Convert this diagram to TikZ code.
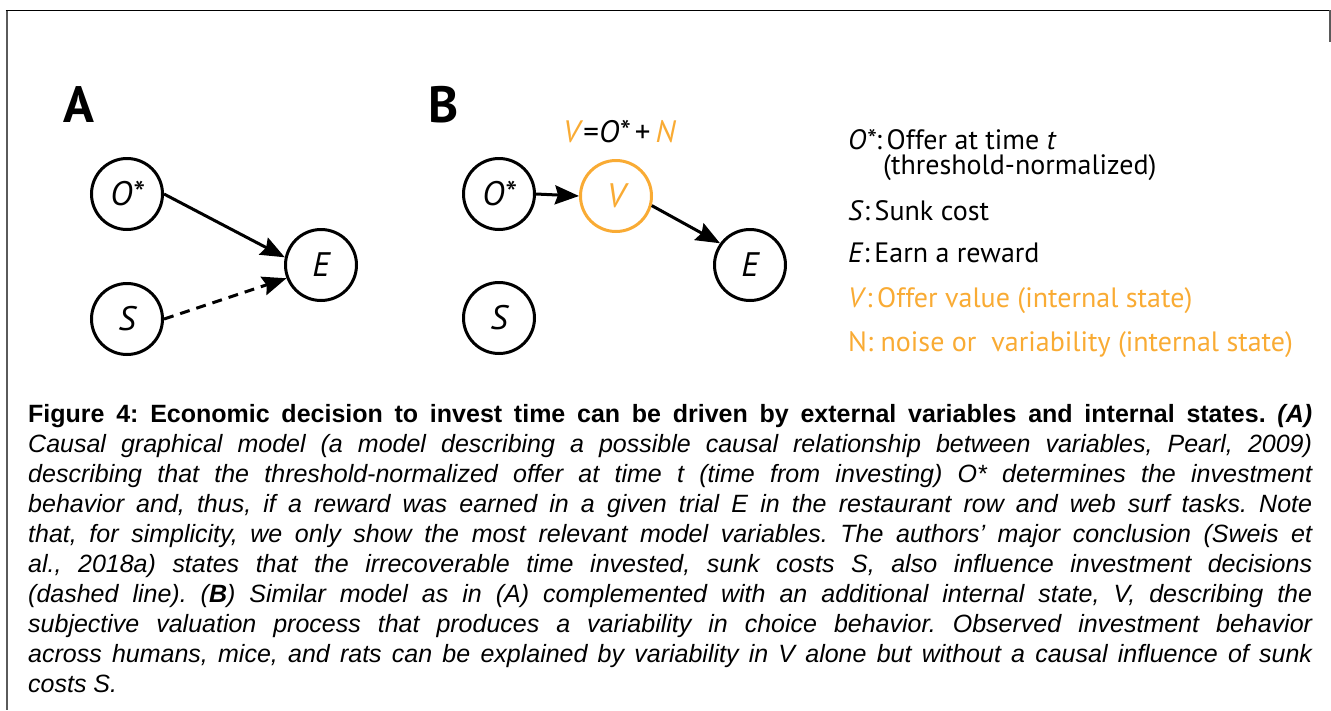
\documentclass[tikz,border=0pt]{standalone}
\usepackage{fontspec}
\setmainfont{PT Sans}
\newfontfamily\capfont{Liberation Sans}
\usetikzlibrary{arrows.meta}
\definecolor{vorange}{RGB}{249,171,52}
\definecolor{framegray}{RGB}{90,90,90}
\tikzset{
  varnode/.style={circle, draw, line width=3pt, minimum size=71pt, inner sep=0pt,
    font=\fontsize{34}{34}\selectfont\itshape},
  causal/.style={line width=3pt, -{Stealth[length=24pt,width=19pt,inset=3pt]}},
  legtext/.style={anchor=base west, inner sep=0pt, font=\fontsize{28}{28}\selectfont},
  paneltag/.style={anchor=base west, inner sep=0pt, font=\fontsize{51}{51}\selectfont\bfseries}
}

\begin{document}
\begin{tikzpicture}[x=1pt, y=-1pt]
 \useasboundingbox (0,0) rectangle (1331,710);
 %frame
 \draw[framegray, line width=2pt] (6.5,10) -- (6.5,710);
 \draw[line width=1.5pt] (5.5,10.5) -- (1331,10.5);
 \draw[framegray, line width=1.5pt] (1330,10) -- (1330,42);

 %A causal model
 \node[paneltag] (tagA) at (63,122) {A};
 \node[varnode] (oA) at (127,194) {O*};
 \node[varnode] (eA) at (321,265) {E};
 \node[varnode] (sA) at (127,319) {S};
 \draw[causal] (oA.east) -- (eA.168);
 \draw[causal, dash pattern=on 10pt off 7pt] (sA.east) -- (eA.201);

 %B model with internal state
 \node[paneltag] (tagB) at (428,122) {B};
 \node[legtext, font=\fontsize{31}{31}\selectfont] (eqV) at (563,142)
   {\textcolor{vorange}{\textit{V}}=\textit{O*}\,+\,\textcolor{vorange}{\textit{N}}};
 \node[varnode] (oB) at (499,194) {O*};
 \node[varnode, vorange] (vB) at (616,196) {V};
 \node[varnode] (eB) at (750,265) {E};
 \node[varnode] (sB) at (499,318) {S};
 \draw[causal] (oB.east) -- (vB.west);
 \draw[causal] (vB.-15) -- (eB.144);

 %legend
 \node[legtext] (legO) at (848,149) {\textit{O*}:\,Offer at time \textit{t}};
 \node[legtext] (legOb) at (883,174) {(threshold-normalized)};
 \node[legtext] (legS) at (848,220) {\textit{S}:\,Sunk cost};
 \node[legtext] (legE) at (848,262) {\textit{E}:\,Earn a reward};
 \node[legtext, vorange] (legV) at (848,307) {\textit{V}:\,Offer value (internal state)};
 \node[legtext, vorange] (legN) at (848,351) {N: noise or\ \ variability (internal state)};

 %caption
 \node[anchor=north west, inner sep=0pt, text width=1284pt, align=justify,
   font=\capfont\fontsize{25}{30}\selectfont] (cap) at (28,404.5) {\hyphenpenalty=10000 \frenchspacing
   \textbf{Figure 4: Economic decision to invest time can be driven by external variables and internal states.} \textbf{\textit{(A)}}\linebreak
   \itshape Causal graphical model (a model describing a possible causal relationship between variables, Pearl, 2009)\linebreak
   describing that the threshold-normalized offer at time t (time from investing) O* determines the investment\linebreak
   behavior and, thus, if a reward was earned in a given trial E in the restaurant row and web surf tasks. Note\linebreak
   that, for simplicity, we only show the most relevant model variables. The authors’ major conclusion (Sweis et\linebreak
   al., 2018a) states that the irrecoverable time invested, sunk costs S, also influence investment decisions\linebreak
   (dashed line). (\textbf{B}) Similar model as in (A) complemented with an additional internal state, V, describing the\linebreak
   subjective valuation process that produces a variability in choice behavior. Observed investment behavior\linebreak
   across humans, mice, and rats can be explained by variability in V alone but without a causal influence of sunk\linebreak
   costs S.};
\end{tikzpicture}
\end{document}
